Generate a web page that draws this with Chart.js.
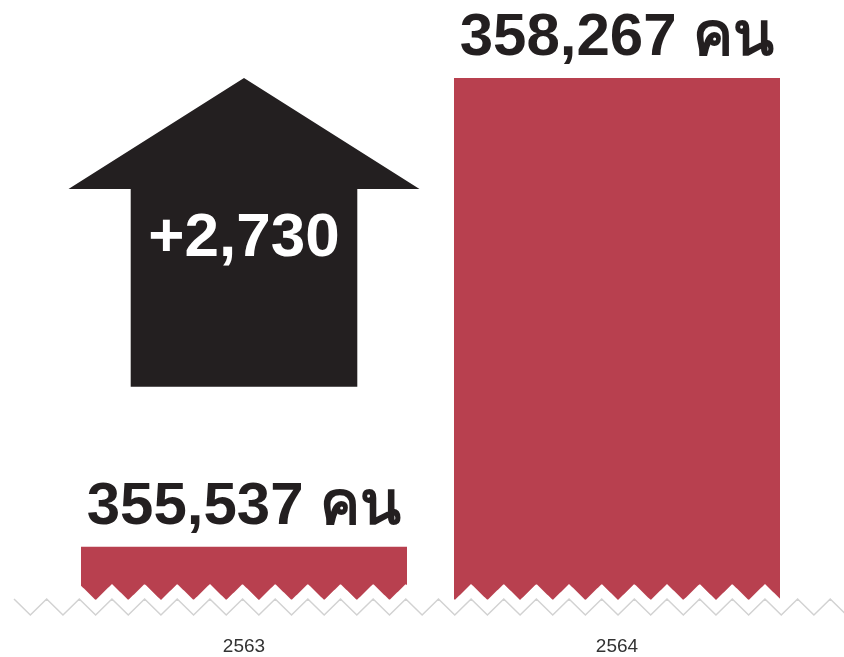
<!DOCTYPE html>
<html>
<head>
<meta charset="utf-8">
<script src="https://cdn.jsdelivr.net/npm/chart.js@4.4.1/dist/chart.umd.min.js"></script>
<style>
  html, body { margin: 0; padding: 0; background: #fff; }
  #wrap { width: 844px; height: 657px; position: relative; }
</style>
</head>
<body>
<div id="wrap"><canvas id="canvas-1"></canvas></div>
<script>
'use strict';

var years = ['2563', '2564'];
var people = [355537, 358267];
var unit = 'คน';

var barColor = '#b8404f';
var inkColor = '#231f20';
var boldFont = '"Liberation Sans", Arial, "Noto Sans", sans-serif';

var fmt = function(n) {
  return n.toLocaleString('en-US');
};

// broken axis: zigzag cut at the foot of the bars + grey zigzag line
var zigzagPlugin = {
  id: 'zigzag',
  afterDatasetsDraw: function(chart) {
    var ctx = chart.ctx;
    var bottom = chart.chartArea.bottom;
    var w = chart.width;
    var period = 32.65, amp = 16, x0 = 14;
    var zig = function(x) {
      var t = ((x - x0) / period) % 1;
      if (t < 0) t += 1;
      return t < 0.5 ? t * 2 : (1 - t) * 2;
    };
    ctx.save();
    // white cover under the bars
    ctx.beginPath();
    ctx.moveTo(0, bottom - 15 - amp + zig(0) * amp);
    for (var x = 0; x <= w; x += 1) {
      ctx.lineTo(x, bottom - 15 - amp + zig(x) * amp);
    }
    ctx.lineTo(w, bottom + 4);
    ctx.lineTo(0, bottom + 4);
    ctx.closePath();
    ctx.fillStyle = '#fff';
    ctx.fill();
    // grey axis line
    ctx.beginPath();
    for (var k = 0; x0 + k * period / 2 <= w + period; k++) {
      var px = x0 + k * period / 2;
      var py = (k % 2 === 0) ? bottom - amp : bottom;
      if (k === 0) ctx.moveTo(px, py); else ctx.lineTo(px, py);
    }
    ctx.strokeStyle = '#d2d2d2';
    ctx.lineWidth = 1.5;
    ctx.stroke();
    ctx.restore();
  }
};

// value labels over the bars and the up arrow with the difference
var labelPlugin = {
  id: 'labels',
  afterDraw: function(chart) {
    var ctx = chart.ctx;
    var bars = chart.getDatasetMeta(0).data;
    var yScale = chart.scales.y;
    ctx.save();
    ctx.textAlign = 'center';
    ctx.textBaseline = 'alphabetic';
    ctx.fillStyle = inkColor;
    ctx.font = 'bold 60px ' + boldFont;
    bars.forEach(function(bar, i) {
      ctx.fillText(fmt(people[i]) + ' ' + unit, bar.x, bar.y - 23);
    });

    // arrow from the first bar up to the level of the second
    var ax = bars[0].x;
    var ay = yScale.getPixelForValue(people[1]);
    ctx.beginPath();
    ctx.moveTo(ax, ay);
    ctx.lineTo(ax + 175.5, ay + 111);
    ctx.lineTo(ax + 113.3, ay + 111);
    ctx.lineTo(ax + 113.3, ay + 308.7);
    ctx.lineTo(ax - 113.3, ay + 308.7);
    ctx.lineTo(ax - 113.3, ay + 111);
    ctx.lineTo(ax - 175.5, ay + 111);
    ctx.closePath();
    ctx.fillStyle = inkColor;
    ctx.fill();

    ctx.fillStyle = '#fff';
    ctx.font = 'bold 62px ' + boldFont;
    ctx.fillText('+' + fmt(people[1] - people[0]), ax, ay + 178);
    ctx.restore();
  }
};

var ctx = document.getElementById('canvas-1');
var chart = new Chart(ctx, {
  type: 'bar',
  data: {
    labels: years,
    datasets: [{
      data: people,
      backgroundColor: barColor,
      borderWidth: 0,
      categoryPercentage: 1,
      barPercentage: 0.874
    }]
  },
  options: {
    responsive: true,
    maintainAspectRatio: false,
    animation: false,
    layout: {
      padding: { top: 38, left: 57.5, right: 40.5, bottom: 0 }
    },
    plugins: {
      legend: { display: false },
      tooltip: { enabled: false }
    },
    scales: {
      x: {
        grid: { display: false, drawTicks: false },
        border: { display: false },
        afterFit: function(scale) {
          scale.height = 42;
        },
        ticks: {
          color: '#333',
          padding: 20,
          font: { family: '"Liberation Sans", Arial, sans-serif', size: 19 }
        }
      },
      y: {
        display: false,
        min: 355140,
        max: 358500
      }
    }
  },
  plugins: [zigzagPlugin, labelPlugin]
});
</script>
</body>
</html>
